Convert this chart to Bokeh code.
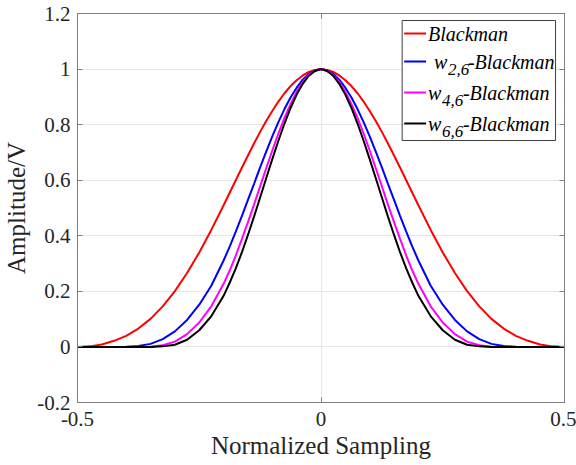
from bokeh.plotting import figure
from bokeh.models import (ColumnDataSource, FixedTicker, LinearAxis, CustomJSTickFormatter,
                          Label, Range1d)
from bokeh.embed import file_html
from bokeh.resources import INLINE

# ---------------- data ----------------
x_norm = [-0.5, -0.475, -0.45, -0.425, -0.4, -0.375, -0.35, -0.325, -0.3, -0.275, -0.25, -0.225,
          -0.2, -0.1875, -0.175, -0.1625, -0.15, -0.1375, -0.125, -0.1125, -0.1, -0.0875,
          -0.075, -0.0625, -0.05, -0.0375, -0.025, -0.0125, 0.0,
          0.0125, 0.025, 0.0375, 0.05, 0.0625, 0.075, 0.0875, 0.1, 0.1125, 0.125, 0.1375,
          0.15, 0.1625, 0.175, 0.1875, 0.2,
          0.225, 0.25, 0.275, 0.3, 0.325, 0.35, 0.375, 0.4, 0.425, 0.45, 0.475, 0.5]

blackman = [0.000, 0.002, 0.009, 0.022, 0.040, 0.066, 0.101, 0.146, 0.201, 0.266, 0.340, 0.422,
            0.510, 0.555, 0.600, 0.645, 0.689, 0.732, 0.774, 0.813, 0.849, 0.883,
            0.913, 0.939, 0.960, 0.977, 0.990, 0.997, 1.000,
            0.997, 0.990, 0.977, 0.960, 0.939, 0.913, 0.883, 0.849, 0.813, 0.774, 0.732,
            0.689, 0.645, 0.600, 0.555, 0.510,
            0.422, 0.340, 0.266, 0.201, 0.146, 0.101, 0.066, 0.040, 0.022, 0.009, 0.002, 0.000]

w26_blackman = [0.000, 0.000, 0.000, 0.000, 0.001, 0.003, 0.011, 0.028, 0.056, 0.097, 0.152, 0.221,
                0.311, 0.361, 0.415, 0.471, 0.529, 0.587, 0.646, 0.703, 0.758, 0.809,
                0.856, 0.898, 0.933, 0.962, 0.983, 0.995, 1.000,
                0.995, 0.983, 0.962, 0.933, 0.898, 0.856, 0.809, 0.758, 0.703, 0.646, 0.587,
                0.529, 0.471, 0.415, 0.361, 0.311,
                0.221, 0.152, 0.097, 0.056, 0.028, 0.011, 0.003, 0.001, 0.000, 0.000, 0.000, 0.000]

w46_blackman = [0.000, 0.000, 0.000, 0.000, 0.000, 0.000, 0.001, 0.006, 0.019, 0.046, 0.088, 0.147,
                0.227, 0.275, 0.329, 0.388, 0.449, 0.512, 0.578, 0.643, 0.707, 0.768,
                0.824, 0.874, 0.918, 0.953, 0.979, 0.994, 1.000,
                0.994, 0.979, 0.953, 0.918, 0.874, 0.824, 0.768, 0.707, 0.643, 0.578, 0.512,
                0.449, 0.388, 0.329, 0.275, 0.227,
                0.147, 0.088, 0.046, 0.019, 0.006, 0.001, 0.000, 0.000, 0.000, 0.000, 0.000, 0.000]

w66_blackman = [0.000, 0.000, 0.000, 0.000, 0.000, 0.000, 0.000, 0.002, 0.008, 0.026, 0.060, 0.111,
                0.184, 0.231, 0.283, 0.340, 0.403, 0.469, 0.538, 0.607, 0.676, 0.742,
                0.804, 0.860, 0.908, 0.947, 0.976, 0.993, 1.000,
                0.993, 0.976, 0.947, 0.908, 0.860, 0.804, 0.742, 0.676, 0.607, 0.538, 0.469,
                0.403, 0.340, 0.283, 0.231, 0.184,
                0.111, 0.060, 0.026, 0.008, 0.002, 0.000, 0.000, 0.000, 0.000, 0.000, 0.000, 0.000]

x_ticks = [-0.5, 0.0, 0.5]
y_ticks = [-0.2, 0.0, 0.2, 0.4, 0.6, 0.8, 1.0, 1.2]

series_names = ["Blackman", "w26", "w46", "w66"]
series_colors = ["#ff0000", "#0000ff", "#ff00ff", "#000000"]
# ------------------------------------------------------------------------

FONT = "Liberation Serif"
AXIS_GRAY = "#808080"
TEXT_GRAY = "#262626"

# frame geometry (figure pixels)
W, H = 576, 465
ML, MR, MT, MB = 75, 12, 13, 63
FW = W - ML - MR
FH = H - MT - MB

p = figure(width=W, height=H, output_backend="svg", toolbar_location=None,
           x_range=Range1d(-0.5, 0.5), y_range=Range1d(-0.2, 1.2),
           min_border_left=ML, min_border_right=MR, min_border_top=MT, min_border_bottom=MB,
           background_fill_color="white", border_fill_color="white")
p.outline_line_color = AXIS_GRAY
p.outline_line_width = 1

fmt_code = "return (Math.round(tick*10)/10).toString();"

def style_axis(ax, show_labels=True):
    ax.axis_line_color = AXIS_GRAY
    ax.major_tick_line_color = AXIS_GRAY
    ax.major_tick_in = 5
    ax.major_tick_out = 0
    ax.minor_tick_line_color = None
    ax.major_label_text_font = FONT
    ax.major_label_text_color = TEXT_GRAY
    ax.axis_label_text_font = FONT
    ax.axis_label_text_font_style = "normal"
    ax.axis_label_text_color = TEXT_GRAY
    ax.axis_label_text_font_size = "25px"
    if show_labels:
        ax.major_label_text_font_size = "21px"
        ax.formatter = CustomJSTickFormatter(code=fmt_code)
    else:
        ax.major_label_text_font_size = "0px"
        ax.major_label_standoff = 0
        ax.formatter = CustomJSTickFormatter(code="return '';")

xt = FixedTicker(ticks=x_ticks)
yt = FixedTicker(ticks=y_ticks)

p.xaxis.ticker = xt
p.yaxis.ticker = yt
p.xgrid.ticker = xt
p.ygrid.ticker = yt
style_axis(p.xaxis[0])
style_axis(p.yaxis[0])
p.xaxis.axis_label = "Normalized Sampling"
p.yaxis.axis_label = "Amplitude/V"
p.xaxis.major_label_standoff = 9
p.xaxis.axis_label_standoff = 3
p.yaxis.major_label_standoff = 7
p.yaxis.axis_label_standoff = 4

right_ax = LinearAxis(ticker=yt)
style_axis(right_ax, show_labels=False)
p.add_layout(right_ax, "right")
top_ax = LinearAxis(ticker=xt)
style_axis(top_ax, show_labels=False)
p.add_layout(top_ax, "above")

for g in (p.xgrid[0], p.ygrid[0]):
    g.grid_line_color = "#e6e6e6"
    g.grid_line_width = 1

src = ColumnDataSource(dict(x=x_norm, Blackman=blackman, w26=w26_blackman,
                            w46=w46_blackman, w66=w66_blackman))
for name, col in zip(series_names, series_colors):
    p.line("x", name, source=src, line_color=col, line_width=2)

# ---------------- manual legend (pixel layout -> data coords) ----------------
def sx(px):
    return -0.5 + (px - ML) / FW
def sy(py):
    return 1.2 - (py - MT) / FH * 1.4

p.quad(left=[sx(401)], right=[sx(555)], top=[sy(20)], bottom=[sy(140)],
       fill_color="white", fill_alpha=1.0, line_color="#404040", line_width=1,
       level="overlay")

rows = [33, 61, 92, 123]
for row_y, col in zip(rows, series_colors):
    p.line(x=[sx(403), sx(425)], y=[sy(row_y), sy(row_y)], line_color=col,
           line_width=2, level="overlay")

def lab(px, py, text, size="20px"):
    p.add_layout(Label(x=sx(px), y=sy(py), text=text, text_font=FONT,
                       text_font_style="italic", text_font_size=size,
                       text_baseline="middle", text_align="left",
                       text_color="black", level="overlay"))

lab(427, rows[0], "Blackman")
# w_{2,6}
lab(433, rows[1], "w")
lab(447, rows[1] + 8, "2,6", "17px")
lab(467, rows[1], "-Blackman")
# w_{4,6}
lab(427, rows[2], "w")
lab(441, rows[2] + 8, "4,6", "17px")
lab(462, rows[2], "-Blackman")
# w_{6,6}
lab(427, rows[3], "w")
lab(441, rows[3] + 8, "6,6", "17px")
lab(462, rows[3], "-Blackman")

open("out.html", "w").write(file_html(p, INLINE))
